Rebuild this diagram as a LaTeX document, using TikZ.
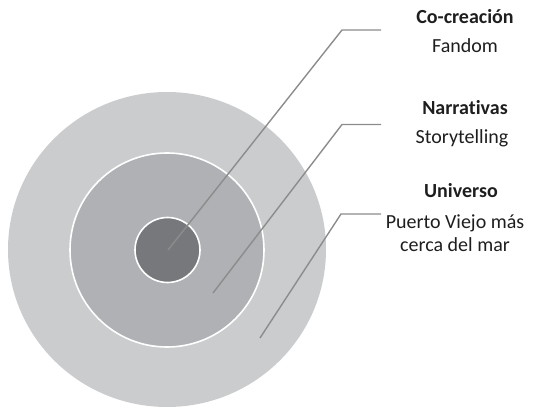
\documentclass[tikz,border=0pt]{standalone}
\usepackage{fontspec}
\setmainfont{Carlito}[Ligatures=NoCommon]
\definecolor{outerc}{RGB}{203,204,206}
\definecolor{midc}{RGB}{176,177,180}
\definecolor{innerc}{RGB}{119,120,123}
\definecolor{linec}{RGB}{140,140,140}
\definecolor{textc}{RGB}{30,30,30}
\tikzset{
  ring/.style={draw=white, line width=1.6pt},
  leader/.style={draw=linec, line width=1.4pt},
  head/.style={font=\fontsize{20}{23}\selectfont\bfseries, text=textc, inner sep=0pt},
  sub/.style={font=\fontsize{20}{23}\selectfont, text=textc, inner sep=0pt, align=center}
}
\begin{document}
\begin{tikzpicture}[x=1pt,y=-1pt]
\useasboundingbox (0,0) rectangle (536,409);
\fill[outerc] (167,249.5) ellipse [x radius=159, y radius=157.5];
\draw[ring, fill=midc] (167,250) circle [radius=97];
\draw[ring, fill=innerc] (167.5,250) circle [radius=32.5];
% endpoints
\coordinate (e1) at (168,250);
\coordinate (c1) at (342,30);
\coordinate (h1) at (381,30);
\coordinate (e2) at (213,293);
\coordinate (c2) at (342,124.5);
\coordinate (h2) at (381,124.5);
\coordinate (e3) at (260,338);
\coordinate (c3) at (341,214);
\coordinate (h3) at (381,214);
\draw[leader] (e1) -- (c1) -- (h1);
\draw[leader] (e2) -- (c2) -- (h2);
\draw[leader] (e3) -- (c3) -- (h3);
\node[head] (t1) at (465,17) {Co-creación};
\node[sub] (s1) at (465,46) {Fandom};
\node[head] (t2) at (465,108) {Narrativas};
\node[sub] (s2) at (462,138) {Storytelling};
\node[head] (t3) at (461,191) {Universo};
\node[sub] (s3) at (455,233) {Puerto Viejo más\\cerca del mar};
\end{tikzpicture}
\end{document}
